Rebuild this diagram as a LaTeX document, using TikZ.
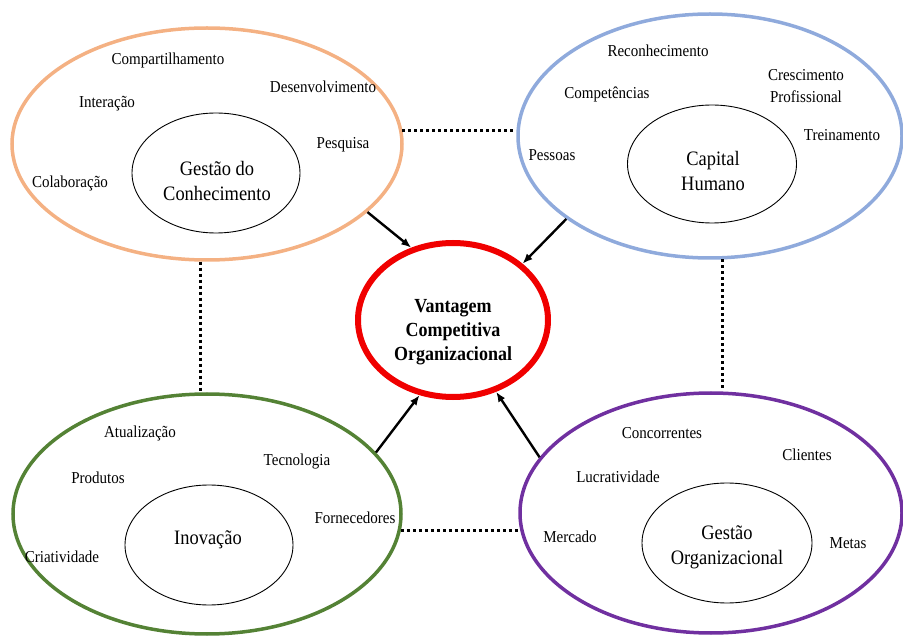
\documentclass[tikz,border=0pt]{standalone}
\usepackage{fontspec}
\setmainfont[FakeStretch=0.9]{Liberation Serif}
\usetikzlibrary{shapes.geometric,arrows.meta}
\definecolor{corange}{RGB}{244,177,131}
\definecolor{cblue}{RGB}{143,170,220}
\definecolor{cgreen}{RGB}{84,130,53}
\definecolor{cpurple}{RGB}{112,48,160}
\definecolor{cred}{RGB}{240,0,0}
\begin{document}
\begin{tikzpicture}[x=1pt,y=-1pt,
 outerell/.style={draw, ellipse, line width=3.5pt, inner sep=0pt},
 innerell/.style={draw, ellipse, line width=0.9pt, inner sep=0pt},
 title/.style={font=\fontsize{20.5}{25}\selectfont, align=center, inner sep=0pt},
 lbl/.style={font=\fontsize{16.7}{22}\selectfont, align=center, inner sep=0pt},
 conn/.style={-{Latex[length=10pt,width=8pt]}, line width=2.4pt},
 dots/.style={line width=3pt, dash pattern=on 3pt off 3pt}]
\useasboundingbox (0,0) rectangle (903,636);

% outer ellipses
\node[outerell, draw=corange, minimum width=390pt, minimum height=232pt] (gc) at (207,144) {};
\node[outerell, draw=cblue, minimum width=384pt, minimum height=244pt] (ch) at (710,136) {};
\node[outerell, draw=cgreen, minimum width=388pt, minimum height=240pt] (inov) at (207,514) {};
\node[outerell, draw=cpurple, minimum width=382pt, minimum height=240pt] (go) at (711,513) {};
\node[draw=cred, ellipse, line width=6pt, inner sep=0pt, minimum width=190pt, minimum height=154pt] (vc) at (453,320) {};

% inner ellipses
\node[innerell, minimum width=168pt, minimum height=120pt] (gcin) at (216,173) {};
\node[innerell, minimum width=169pt, minimum height=118pt] (chin) at (712,164) {};
\node[innerell, minimum width=168pt, minimum height=120pt] (inovin) at (209,545) {};
\node[innerell, minimum width=170pt, minimum height=120pt] (goin) at (727,543) {};

% titles
\node[title] (tgc) at (217,181) {Gestão do\\Conhecimento};
\node[title] (tch) at (713,171) {Capital\\Humano};
\node[title] (tinov) at (208,540) {Inovação};
\node[title] (tgo) at (727,547) {Gestão\\Organizacional};
\node[title, font=\fontsize{20}{24}\selectfont\bfseries] (tvc) at (453,332) {Vantagem\\Competitiva\\Organizacional};

% labels - Gestao do Conhecimento
\node[lbl] (l1) at (168,60) {Compartilhamento};
\node[lbl] (l2) at (323,87) {Desenvolvimento};
\node[lbl] (l3) at (107,104) {Interação};
\node[lbl] (l4) at (343,145) {Pesquisa};
\node[lbl] (l5) at (70,183) {Colaboração};
% Capital Humano
\node[lbl] (l6) at (658,51) {Reconhecimento};
\node[lbl] (l7) at (806,86) {Crescimento\\Profissional};
\node[lbl] (l8) at (607,94) {Competências};
\node[lbl] (l9) at (842,135) {Treinamento};
\node[lbl] (l10) at (552,155) {Pessoas};
% Inovacao
\node[lbl] (l11) at (140,433) {Atualização};
\node[lbl] (l12) at (297,462) {Tecnologia};
\node[lbl] (l13) at (98,478) {Produtos};
\node[lbl] (l14) at (355,518) {Fornecedores};
\node[lbl] (l15) at (62,557) {Criatividade};
% Gestao Organizacional
\node[lbl] (l16) at (662,433) {Concorrentes};
\node[lbl] (l17) at (807,455) {Clientes};
\node[lbl] (l18) at (618,477) {Lucratividade};
\node[lbl] (l19) at (570,537) {Mercado};
\node[lbl] (l20) at (848,543) {Metas};

% arrows
\draw[conn] (gc.-23) -- (vc.120);
\draw[conn] (ch.-150) -- (vc.39);
\draw[conn] (inov.20) -- (vc.-114);
\draw[conn] (go.162) -- (vc.-59);

% dotted links
\draw[dots] (gc.4) -- (gc.4 -| ch.west);
\draw[dots] (inov.-5) -- (inov.-5 -| go.west);
\draw[dots] (gc.-93) -- (gc.-93 |- inov.north);
\draw[dots] (ch.-84) -- (ch.-84 |- go.north);
\end{tikzpicture}
\end{document}
